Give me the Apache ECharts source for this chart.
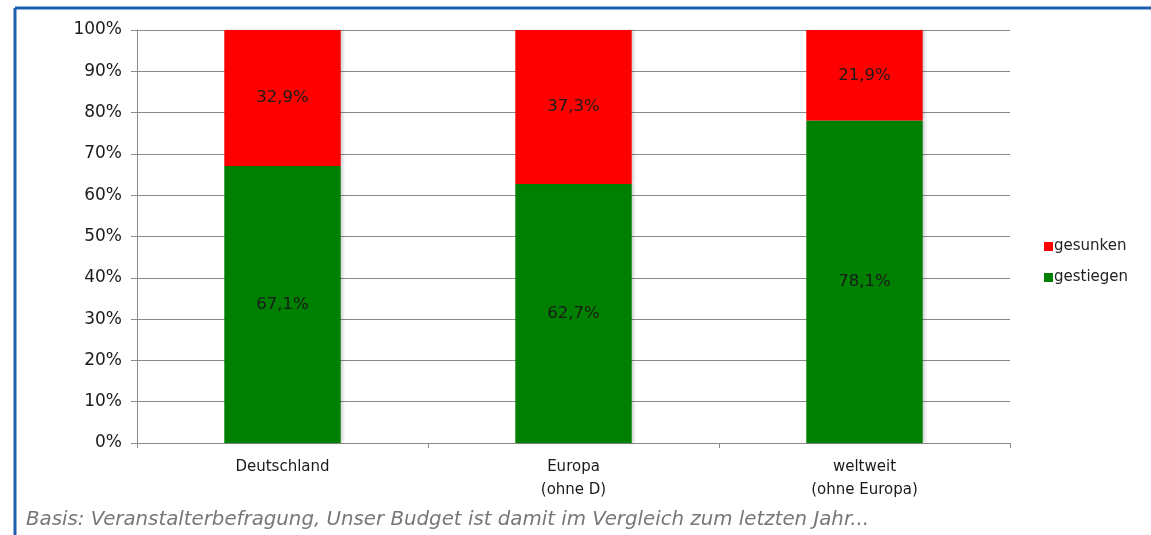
<!DOCTYPE html>
<html><head><meta charset="utf-8">
<script src="https://cdn.jsdelivr.net/npm/echarts@6/dist/echarts.min.js"></script>
<style>html,body{margin:0;padding:0;background:#fff}#c{width:1151px;height:535px}</style>
</head><body><div id="c"></div>
<script>
const categories = ['Deutschland', 'Europa\n(ohne D)', 'weltweit\n(ohne Europa)'];
const gestiegen = [67.1, 62.7, 78.1];
const gesunken = [32.9, 37.3, 21.9];
const seriesNames = ['gesunken', 'gestiegen'];
const yTicks = [0, 10, 20, 30, 40, 50, 60, 70, 80, 90, 100];
const footnote = 'Basis: Veranstalterbefragung, Unser Budget ist damit im Vergleich zum letzten Jahr...';

const FONT = 'DejaVu Sans';
const chart = echarts.init(document.getElementById('c'));
const fmt = v => v.toFixed(1).replace('.', ',') + '%';
const labelCfg = {show: true, position: 'inside', color: '#1a1a1a', fontFamily: FONT, fontSize: 16.5,
  formatter: p => fmt(p.value)};
chart.setOption({
  animation: false,
  grid: {left: 137, right: 141, top: 30, bottom: 92},
  legend: {
    data: seriesNames, orient: 'vertical', left: 1039, top: 234,
    itemWidth: 9, itemHeight: 9, itemGap: 16, icon: 'rect',
    textStyle: {fontFamily: FONT, fontSize: 15, color: '#222', padding: [0,0,0,-4]}
  },
  xAxis: {
    type: 'category', data: categories,
    axisLine: {lineStyle: {color: '#8a8a8a', width: 1}},
    axisTick: {show: true, length: 5, lineStyle: {color: '#8a8a8a'}},
    axisLabel: {fontFamily: FONT, fontSize: 15, color: '#1a1a1a', margin: 13, lineHeight: 23}
  },
  yAxis: {
    type: 'value', min: 0, max: 100, interval: 10,
    axisLine: {show: true, lineStyle: {color: '#8a8a8a'}},
    axisTick: {show: true, length: 6, lineStyle: {color: '#8a8a8a'}},
    splitLine: {lineStyle: {color: '#8a8a8a', width: 1}},
    axisLabel: {fontFamily: FONT, fontSize: 17, color: '#1a1a1a', margin: 15,
      formatter: v => yTicks.includes(v) ? v + '%' : ''}
  },
  series: [
    {name: 'gestiegen', type: 'bar', stack: 't', data: gestiegen, barWidth: '40%',
     itemStyle: {color: '#008000', shadowColor: 'rgba(0,0,0,0.18)', shadowBlur: 3, shadowOffsetX: 2},
     label: labelCfg},
    {name: 'gesunken', type: 'bar', stack: 't', data: gesunken, barWidth: '40%',
     itemStyle: {color: '#ff0000', shadowColor: 'rgba(0,0,0,0.18)', shadowBlur: 3, shadowOffsetX: 2},
     label: labelCfg}
  ],
  graphic: [
    {type: 'line', shape: {x1: 15, y1: 8, x2: 1151, y2: 8}, style: {stroke: '#1f5fb0', lineWidth: 3}},
    {type: 'line', shape: {x1: 15, y1: 8, x2: 15, y2: 535}, style: {stroke: '#1f5fb0', lineWidth: 3}},
    {type: 'text', left: 26, top: 510, style: {text: footnote, fontFamily: FONT, fontStyle: 'italic',
      fontSize: 19.8, fill: '#777777'}}
  ]
});
</script></body></html>
